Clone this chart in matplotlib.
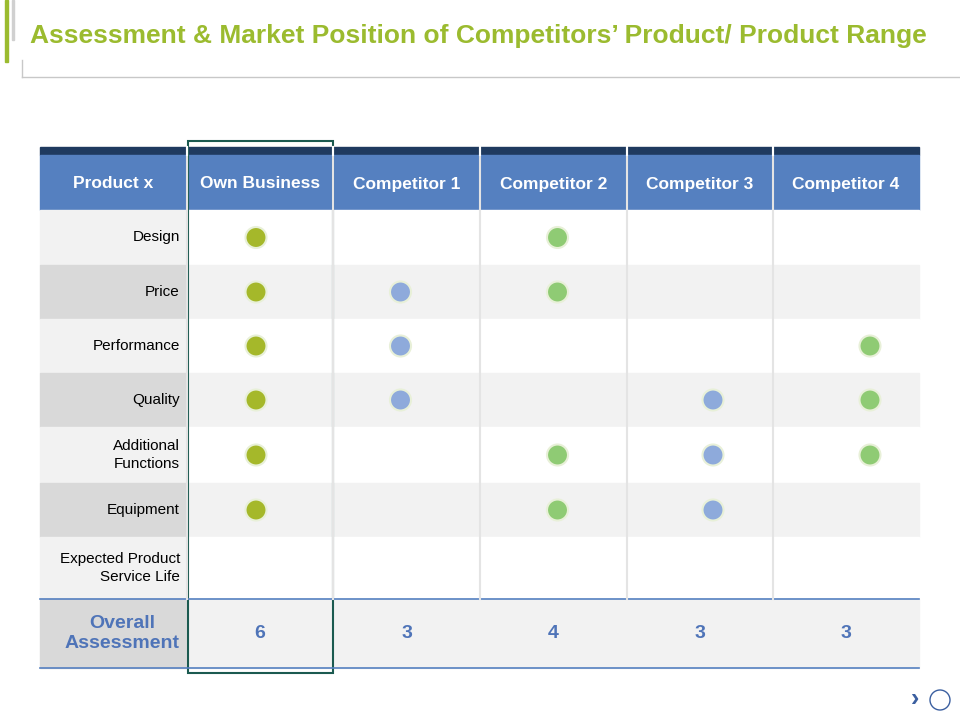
import matplotlib.pyplot as plt
from matplotlib.patches import Rectangle, Circle

plt.rcParams["font.family"] = "Liberation Sans"

# Daten der Tabelle
columns = ["Product x", "Own Business", "Competitor 1", "Competitor 2", "Competitor 3", "Competitor 4"]
rows = ["Design", "Price", "Performance", "Quality", "Additional\nFunctions", "Equipment",
        "Expected Product\nService Life"]
# Zeilenindex der Punkte pro Spalte
own_dots = [0, 1, 2, 3, 4, 5]
comp1_dots = [1, 2, 3]
comp2_dots = [0, 1, 4, 5]
comp3_dots = [3, 4, 5]
comp4_dots = [2, 3, 4]
overall = [6, 3, 4, 3, 3]

dots = [own_dots, comp1_dots, comp2_dots, comp3_dots, comp4_dots]
dot_colors = ["#a5b82a", "#8eaadb", "#8fcb74", "#8eaadb", "#8fcb74"]
dot_shift = [-4, -6, 4, 13, 24]  # Punkte sitzen nicht genau mittig

fig = plt.figure(figsize=(9.6, 7.2), dpi=100)
ax = fig.add_axes([0, 0, 1, 1])
ax.set_xlim(0, 960)
ax.set_ylim(720, 0)
ax.axis("off")

# Titel
ax.text(30, 36, "Assessment & Market Position of Competitors\u2019 Product/ Product Range",
        fontsize=19, fontweight="bold", color="#9bbb2f", va="center", ha="left")
ax.add_patch(Rectangle((5, 0), 3, 62, color="#9bbb2f"))
ax.add_patch(Rectangle((12, 0), 2, 40, color="#d0d0d0"))
ax.plot([22, 960], [77, 77], color="#c8c8c8", lw=1)
ax.plot([22, 22], [60, 77], color="#c8c8c8", lw=1)

col_x = [40, 187, 333, 480, 627, 773, 919]
row_y = [210, 265, 319, 373, 427, 483, 537, 599, 668]

# Kopfzeile
ax.add_patch(Rectangle((40, 147), 879, 8, color="#1f3a5f"))
ax.add_patch(Rectangle((40, 155), 879, 55, color="#5580c0"))
for i, name in enumerate(columns):
    cx = (col_x[i] + col_x[i + 1]) / 2
    ax.text(cx, 184, name, color="white", fontsize=12.5, fontweight="bold", ha="center", va="center")

# Zeilen
for r, label in enumerate(rows):
    y0, y1 = row_y[r], row_y[r + 1]
    first = "#f2f2f2" if r % 2 == 0 else "#d9d9d9"
    rest = "#ffffff" if r % 2 == 0 else "#f2f2f2"
    ax.add_patch(Rectangle((40, y0), 147, y1 - y0, color=first))
    ax.add_patch(Rectangle((187, y0), 732, y1 - y0, color=rest))
    ax.text(180, (y0 + y1) / 2, label, fontsize=11, ha="right", va="center", linespacing=1.35)

# Gesamtbewertung
y0, y1 = row_y[7], row_y[8]
ax.add_patch(Rectangle((40, y0), 147, y1 - y0, color="#d9d9d9"))
ax.add_patch(Rectangle((187, y0), 732, y1 - y0, color="#f2f2f2"))
ax.plot([40, 919], [y0, y0], color="#5580c0", lw=1.2)
ax.plot([40, 919], [y1, y1], color="#5580c0", lw=1.2)
ax.text(180, (y0 + y1) / 2, "Overall\nAssessment", fontsize=14, fontweight="bold",
        color="#4f74b8", ha="right", va="center", multialignment="center")
for i, v in enumerate(overall):
    cx = (col_x[i + 1] + col_x[i + 2]) / 2
    ax.text(cx, (y0 + y1) / 2, str(v), fontsize=14, fontweight="bold", color="#4f74b8",
            ha="center", va="center")

# Trennlinien
for x in col_x[1:-1]:
    ax.plot([x, x], [147, 599], color="#e4e4e4", lw=1.5)
    ax.plot([x, x], [147, 155], color="white", lw=1.5)

# Punkte
for c, idx in enumerate(dots):
    cx = (col_x[c + 1] + col_x[c + 2]) / 2 + dot_shift[c]
    for r in idx:
        cy = (row_y[r] + row_y[r + 1]) / 2
        ax.add_patch(Circle((cx, cy), 10.5, facecolor=dot_colors[c], edgecolor="#e8f0d8", lw=1.5))

# Rahmen um Own Business
ax.add_patch(Rectangle((188, 141), 145, 532, fill=False, edgecolor="#1b5a50", lw=1.5))

# Navigation unten rechts
ax.text(915, 699, "\u203a", fontsize=18, color="#3b5fa0", ha="center", va="center", fontweight="bold")
ax.add_patch(Circle((940, 700), 10, fill=False, edgecolor="#3b5fa0", lw=1))

fig.savefig("out.png", dpi=100)
